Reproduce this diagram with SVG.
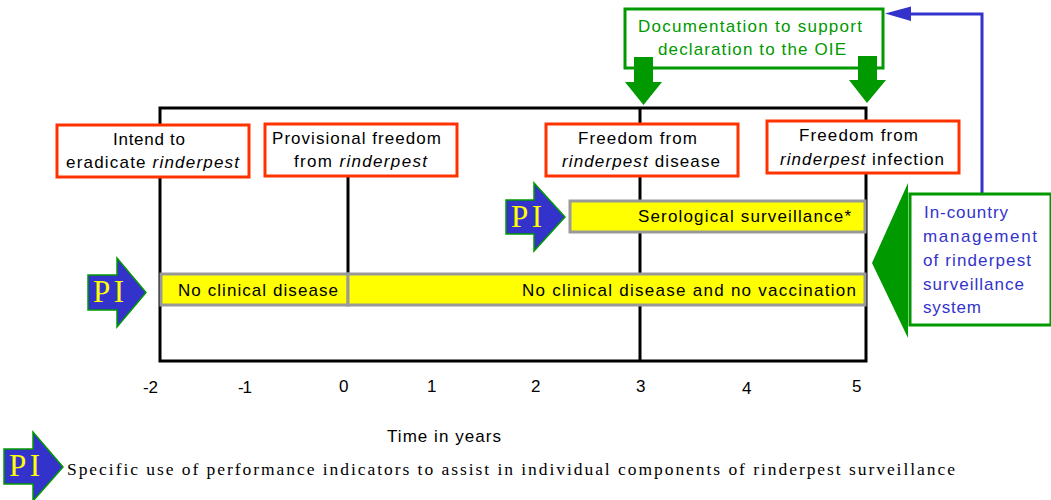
<svg xmlns="http://www.w3.org/2000/svg" width="1051" height="500" viewBox="0 0 1051 500">
<style>
text{font-family:"Liberation Sans",Arial,sans-serif;font-size:17px;fill:#000}
.g{fill:#009900}
.b{fill:#3333cc}
.i{font-style:italic}
.red{fill:#fff;stroke:#ff3300;stroke-width:3}
.bar{fill:#ffff00;stroke:#999;stroke-width:3}
.ax{fill:none;stroke:#000;stroke-width:3}
.pi{fill:#3333cc;stroke:#009900;stroke-width:1.5}
.pit{font-family:"Liberation Serif",serif;font-size:31px;fill:#ffff00}
.leg{font-family:"Liberation Serif",serif;font-size:17.5px}
.gf{fill:#009900}
</style>
<g id="connectors">
<path class="ax" d="M160 108H866V361H160Z"/>
<path class="ax" d="M348 177V273M640 108V361"/>
<path d="M982 194V14H905" fill="none" stroke="#3333cc" stroke-width="3"/>
<path d="M885 13.500L911 6.500V21Z" fill="#3333cc"/>
</g>
<g id="doc"><rect x="625" y="9" width="258" height="59" fill="#fff" stroke="#009900" stroke-width="3"/>
<text class="g" x="638" y="32" textLength="224">Documentation to support</text>
<text class="g" x="658" y="55" textLength="188">declaration to the OIE</text></g>
<g id="arrow-3"><path class="gf" d="M634 57H653V82H662L643.500 105L625 82H634Z"/></g>
<g id="arrow-5"><path class="gf" d="M858 56H877V80H886L867 103L849 80H858Z"/></g>
<g id="n1"><rect class="red" x="57" y="125" width="192" height="52"/>
<text x="113" y="145" textLength="72">Intend to</text>
<text x="66" y="168" textLength="173">eradicate <tspan class="i">rinderpest</tspan></text></g>
<g id="n2"><rect class="red" x="265" y="124" width="192" height="52"/>
<text x="272" y="144" textLength="169">Provisional freedom</text>
<text x="294" y="167" textLength="133">from <tspan class="i">rinderpest</tspan></text></g>
<g id="n3"><rect class="red" x="546" y="124" width="192" height="52"/>
<text x="578" y="144" textLength="119">Freedom from</text>
<text x="562" y="167" textLength="158"><tspan class="i">rinderpest</tspan> disease</text></g>
<g id="n4"><rect class="red" x="767" y="121" width="192" height="52"/>
<text x="799" y="141" textLength="119">Freedom from</text>
<text x="780" y="165" textLength="164"><tspan class="i">rinderpest</tspan> infection</text></g>
<g id="bar-sero"><rect class="bar" x="570" y="201" width="295" height="31"/>
<text x="638" y="222" textLength="213">Serological surveillance*</text></g>
<g id="bar-ncd"><rect class="bar" x="161" y="274" width="187" height="31"/>
<text x="178" y="296" textLength="160">No clinical disease</text></g>
<g id="bar-ncdv"><rect class="bar" x="348" y="274" width="517" height="31"/>
<text x="522" y="296" textLength="334">No clinical disease and no vaccination</text></g>
<g id="pi-1"><path class="pi" d="M88 275H117V258L146 292.500L117 327V310H88Z"/><text class="pit" x="93" y="302" textLength="31">PI</text></g>
<g id="pi-2"><path class="pi" d="M506 200H534V183L565 217L534 251V234H506Z"/><text class="pit" x="511" y="227" textLength="31">PI</text></g>
<g id="pi-3"><path class="pi" d="M4 449H33V432L63 467L33 501V484H4Z"/><text class="pit" x="9" y="476" textLength="31">PI</text></g>
<g id="mgmt-arrow"><path class="gf" d="M908 183V338L872 263Z"/></g>
<g id="mgmt"><rect x="910" y="194" width="141" height="131" fill="#fff" stroke="#009900" stroke-width="3"/>
<text class="b" x="924" y="218" textLength="84">In-country</text>
<text class="b" x="923" y="242" textLength="114">management</text>
<text class="b" x="923" y="266" textLength="108">of rinderpest</text>
<text class="b" x="923" y="290" textLength="101">surveillance</text>
<text class="b" x="923" y="313" textLength="58">system</text></g>
<g id="axis-labels">
<text x="143" y="393" textLength="15">-2</text><text x="238" y="393" textLength="14">-1</text><text x="339" y="392">0</text><text x="427" y="392">1</text><text x="531" y="392">2</text><text x="636" y="392">3</text><text x="742" y="394">4</text><text x="852" y="392">5</text>
<text x="387" y="442" textLength="114">Time in years</text>
</g>
<g id="legend"><text class="leg" x="67" y="475" textLength="888">Specific use of performance indicators to assist in individual components of rinderpest surveillance</text></g>
</svg>
